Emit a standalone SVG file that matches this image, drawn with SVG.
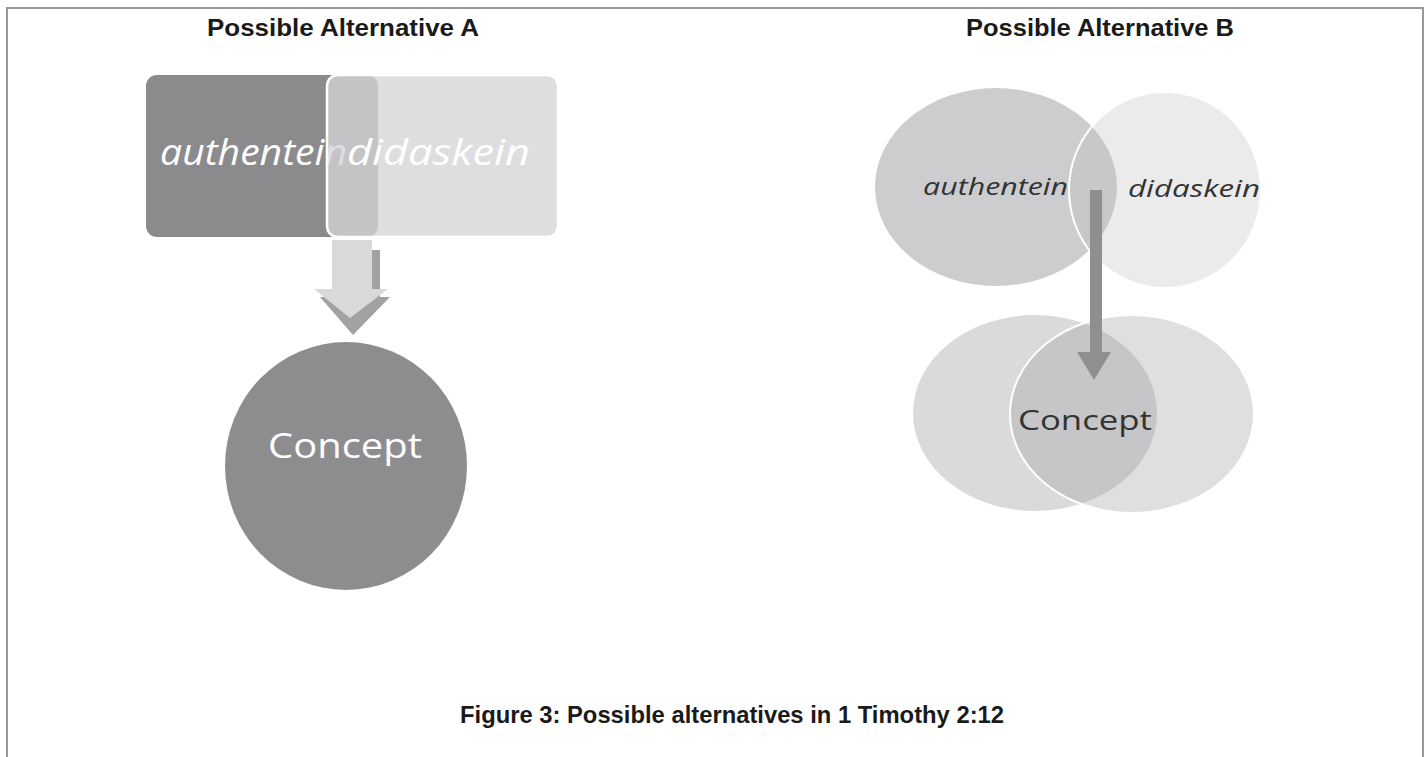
<svg xmlns="http://www.w3.org/2000/svg" width="1428" height="757" viewBox="0 0 1428 757">
<style>
.title{font-family:"Liberation Sans",Arial,sans-serif;font-weight:bold;font-size:24px;fill:#1a1a1a}
.it{font-family:"Open Sans","Liberation Sans",sans-serif;font-style:italic}
.reg{font-family:"Open Sans","Liberation Sans",sans-serif}
</style>
<rect x="0" y="0" width="1428" height="757" fill="#ffffff"/>
<path d="M7,757 V8 H1423 V757" fill="none" stroke="#9a9a9a" stroke-width="2"/>
<text class="title" x="343" y="36" text-anchor="middle" textLength="272" lengthAdjust="spacingAndGlyphs">Possible Alternative A</text>
<text class="title" x="1100" y="36" text-anchor="middle" textLength="268" lengthAdjust="spacingAndGlyphs">Possible Alternative B</text>
<text class="title" x="732" y="723" text-anchor="middle" textLength="544" lengthAdjust="spacingAndGlyphs">Figure 3: Possible alternatives in 1 Timothy 2:12</text>

<g id="connectors">
  <g id="arrowA">
    <rect x="342" y="250" width="38" height="48" fill="#a2a2a4"/>
    <polygon points="320,297 390,297 353,335" fill="#a2a2a4"/>
    <rect x="332" y="240" width="40" height="50" fill="#d9d9db"/>
    <polygon points="314,289 388,289 350,318" fill="#d9d9db"/>
  </g>
</g>

<g id="nodeA_authentein">
  <rect x="146" y="75" width="232" height="162" rx="11" fill="#8b8b8e"/>
  <text class="it" x="160" y="165" font-size="36" fill="#ffffff" textLength="187" lengthAdjust="spacingAndGlyphs">authentein</text>
</g>
<g id="nodeA_didaskein">
  <rect x="327" y="75" width="231" height="162" rx="11" fill="#d5d5d7" fill-opacity="0.78" stroke="#ffffff" stroke-width="2.5"/>
  <text class="it" x="347" y="165" font-size="36" fill="#ffffff" textLength="183" lengthAdjust="spacingAndGlyphs">didaskein</text>
</g>
<g id="nodeA_concept">
  <ellipse cx="346" cy="466" rx="121" ry="124" fill="#8d8d90"/>
  <text class="reg" x="345" y="458" font-size="35" fill="#ffffff" text-anchor="middle" textLength="154" lengthAdjust="spacingAndGlyphs">Concept</text>
</g>

<g id="nodeB_authentein">
  <ellipse cx="996" cy="187" rx="121" ry="99" fill="#cdcdcf"/>
  <text class="it" x="923" y="195" font-size="23" fill="#333333" textLength="145" lengthAdjust="spacingAndGlyphs">authentein</text>
</g>
<g id="nodeB_didaskein">
  <ellipse cx="1165" cy="190" rx="96" ry="98" fill="#bcbcbe" fill-opacity="0.3" stroke="#ffffff" stroke-width="2"/>
  <text class="it" x="1128" y="197" font-size="23" fill="#333333" textLength="132" lengthAdjust="spacingAndGlyphs">didaskein</text>
</g>
<g id="nodeB_concept">
  <ellipse cx="1035" cy="413" rx="122" ry="98" fill="#dadadc"/>
  <ellipse cx="1132" cy="414" rx="122" ry="99" fill="#9c9c9e" fill-opacity="0.32" stroke="#ffffff" stroke-width="2"/>
  <text class="reg" x="1085" y="430" font-size="27" fill="#333333" text-anchor="middle" textLength="134" lengthAdjust="spacingAndGlyphs">Concept</text>
</g>

<g id="connectorsB">
  <rect x="1090" y="190" width="12" height="163" fill="#8f8f91"/>
  <polygon points="1077,352 1111,352 1094,380" fill="#8f8f91"/>
</g>
</svg>
